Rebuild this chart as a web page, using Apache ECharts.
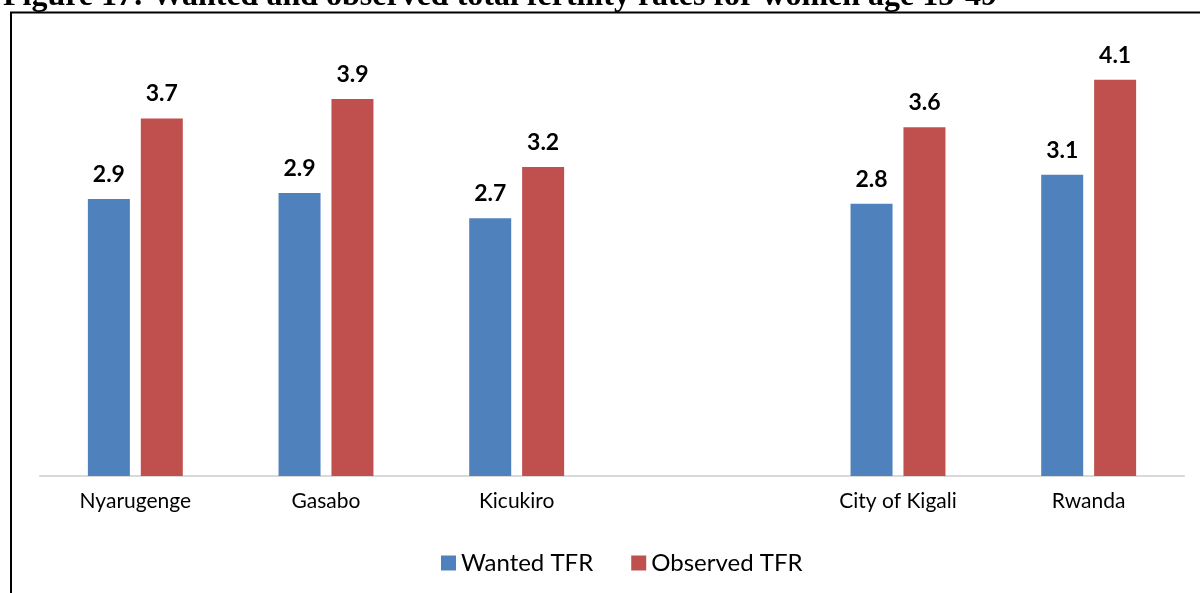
<!DOCTYPE html>
<html>
<head>
<meta charset="utf-8">
<script src="https://cdn.jsdelivr.net/npm/echarts@6/dist/echarts.min.js"></script>
<style>
  html, body { margin: 0; padding: 0; background: #fff; }
  #chart { width: 1200px; height: 593px; }
</style>
</head>
<body>
<div id="chart"></div>
<script>
// categories (the empty one is the gap before the totals)
const categories = ['Nyarugenge', 'Gasabo', 'Kicukiro', '', 'City of Kigali', 'Rwanda'];
const wantedTFR = [2.86, 2.92, 2.66, null, 2.81, 3.11];
const observedTFR = [3.69, 3.89, 3.19, null, 3.60, 4.09];
const titleText = 'Figure 17: Wanted and observed total fertility rates for women age 15-49';

const font = 'Lato, "Open Sans", sans-serif';

const myChart = echarts.init(document.getElementById('chart'));

function barLabel() {
  return {
    show: true,
    position: 'top',
    distance: 13,
    color: '#000',
    fontFamily: font,
    fontWeight: 'bold',
    fontSize: 23,
    formatter: (p) => (p.value == null ? '' : Number(p.value).toFixed(1))
  };
}

const option = {
  backgroundColor: '#fff',
  animation: false,
  title: {
    text: titleText,
    left: -2,
    top: -24,
    textStyle: {
      fontFamily: '"Liberation Serif", "Times New Roman", serif',
      fontWeight: 'bold',
      fontSize: 32,
      color: '#000'
    }
  },
  // frame around the chart (top and left edges are visible)
  graphic: [
    {
      type: 'line',
      shape: { x1: 10, y1: 12.5, x2: 1200, y2: 12.5 },
      style: { stroke: '#000', lineWidth: 2 }
    },
    {
      type: 'line',
      shape: { x1: 11, y1: 12, x2: 11, y2: 593 },
      style: { stroke: '#000', lineWidth: 2 }
    }
  ],
  legend: {
    top: 546,
    left: 436,
    icon: 'rect',
    itemWidth: 15,
    itemHeight: 15,
    itemGap: 38,
    textStyle: {
      fontFamily: font,
      fontSize: 24,
      color: '#000'
    },
    data: ['Wanted TFR', 'Observed TFR']
  },
  grid: {
    left: 40,
    right: 16,
    top: 40,
    bottom: 117
  },
  xAxis: {
    type: 'category',
    data: categories,
    axisTick: { show: false },
    axisLine: { lineStyle: { color: '#d9d9d9', width: 2 } },
    axisLabel: {
      color: '#000',
      fontFamily: font,
      fontSize: 21,
      margin: 15,
      interval: 0
    }
  },
  yAxis: {
    type: 'value',
    min: 0,
    max: 4.5,
    show: false,
    splitLine: { show: false }
  },
  series: [
    {
      name: 'Wanted TFR',
      type: 'bar',
      data: wantedTFR,
      barWidth: 42,
      barGap: '26%',
      itemStyle: { color: '#4f81bd' },
      label: barLabel()
    },
    {
      name: 'Observed TFR',
      type: 'bar',
      data: observedTFR,
      barWidth: 42,
      barGap: '26%',
      itemStyle: { color: '#c0504d' },
      label: barLabel()
    }
  ]
};

myChart.setOption(option);
</script>
</body>
</html>
